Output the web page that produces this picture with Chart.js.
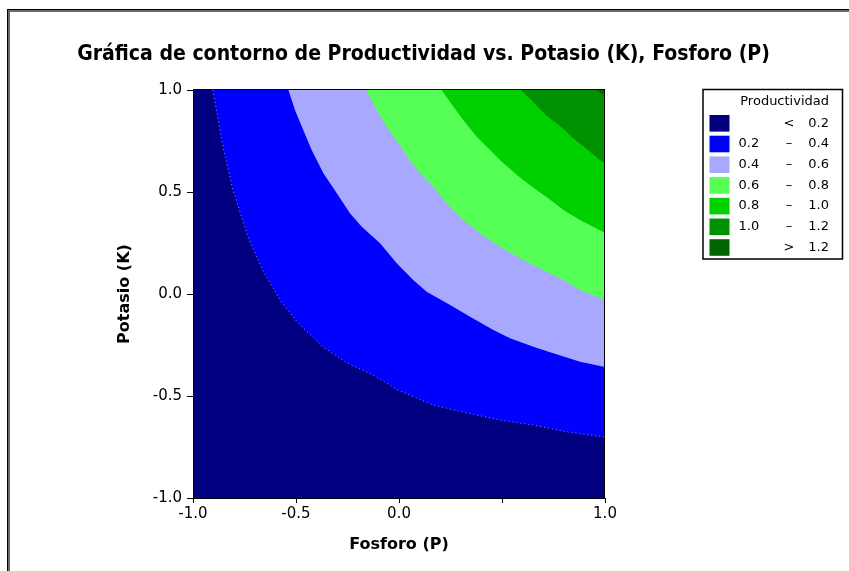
<!DOCTYPE html>
<html><head><meta charset="utf-8">
<script src="https://cdn.jsdelivr.net/npm/chart.js@4/dist/chart.umd.min.js"></script>
<style>html,body{margin:0;padding:0;background:#fff;overflow:hidden}#wrap{position:relative;width:849px;height:571px}</style>
</head><body><div id="wrap"><canvas id="c" width="849" height="571"></canvas></div>
<script>
const titleText = 'Gráfica de contorno de Productividad vs. Potasio (K), Fosforo (P)';
const xAxisTitle = 'Fosforo (P)';
const yAxisTitle = 'Potasio (K)';
const xTickLabels = ['-1.0', '-0.5', '0.0', '', '1.0'];
const yTickLabels = ['-1.0', '-0.5', '0.0', '0.5', '1.0'];
const legendTitle = 'Productividad';
const legendLow = ['', '0.2', '0.4', '0.6', '0.8', '1.0', ''];
const legendSep = ['<', '–', '–', '–', '–', '–', '>'];
const legendHigh = ['0.2', '0.4', '0.6', '0.8', '1.0', '1.2', '1.2'];
const bandColors = ['#000080', '#0000FF', '#A8A8FF', '#55FF55', '#00D000', '#009000', '#006400'];
const levels = [0.2, 0.4, 0.6, 0.8, 1.0, 1.2];

// contour lines: [Fosforo (P), Potasio (K)]
const contour02 = [[-0.904,1.0],[-0.854,0.721],[-0.806,0.510],[-0.733,0.279],[-0.665,0.123],[-0.578,-0.029],[-0.495,-0.137],[-0.369,-0.260],[-0.252,-0.338],[-0.126,-0.397],[-0.005,-0.471],[0.165,-0.544],[0.330,-0.583],[0.490,-0.618],[0.650,-0.642],[0.816,-0.676],[1.0,-0.701]];
const contour04 = [[-0.537,1.0],[-0.505,0.902],[-0.465,0.804],[-0.424,0.706],[-0.367,0.592],[-0.302,0.494],[-0.238,0.396],[-0.181,0.330],[-0.092,0.249],[-0.011,0.151],[0.069,0.069],[0.134,0.011],[0.248,-0.054],[0.345,-0.111],[0.458,-0.176],[0.539,-0.217],[0.652,-0.258],[0.749,-0.291],[0.879,-0.332],[1.0,-0.358]];
const contour06 = [[-0.160,1.0],[-0.108,0.902],[-0.060,0.820],[-0.003,0.739],[0.053,0.657],[0.102,0.592],[0.166,0.526],[0.232,0.444],[0.312,0.363],[0.393,0.298],[0.490,0.232],[0.602,0.167],[0.699,0.118],[0.798,0.069],[0.879,0.020],[1.0,-0.029]];
const contour08 = [[0.207,1.0],[0.264,0.918],[0.312,0.853],[0.377,0.771],[0.442,0.706],[0.495,0.652],[0.578,0.578],[0.660,0.515],[0.723,0.471],[0.798,0.412],[0.879,0.363],[1.0,0.299]];
const contour10 = [[0.592,1.0],[0.652,0.941],[0.717,0.873],[0.782,0.824],[0.846,0.763],[0.911,0.711],[1.0,0.637]];
const contour12 = [[0.961,1.0],[0.981,0.985],[1.0,0.970]];
const contours = [contour02, contour04, contour06, contour08, contour10, contour12];

const datasets = contours.map((pts, i) => ({
  label: String(levels[i]),
  data: pts.map(([x, y]) => ({x, y})),
  fill: 'end',
  backgroundColor: bandColors[i + 1],
  borderColor: i === 0 ? 'rgba(255,255,255,0.55)' : 'rgba(0,0,0,0)',
  borderWidth: i === 0 ? 1 : 0,
  borderDash: i === 0 ? [1, 3] : [],
  pointRadius: 0,
  tension: 0,
  order: contours.length - i
}));

const FONT = "'DejaVu Sans', Verdana, sans-serif";

const decor = {
  id: 'decor',
  beforeDraw(chart) {
    const ctx = chart.ctx, W = chart.width, H = chart.height;
    ctx.save();
    ctx.fillStyle = '#fff'; ctx.fillRect(0, 0, W, H);
    ctx.fillStyle = '#6a6a6a';
    ctx.fillRect(8, 10, W - 8, 2);
    ctx.fillRect(8, 10, 2, H - 10);
    ctx.fillStyle = '#000';
    ctx.fillRect(7, 9, W - 7, 1);
    ctx.fillRect(7, 9, 1, H - 9);
    ctx.restore();
  },
  beforeDatasetsDraw(chart) {
    const a = chart.chartArea, ctx = chart.ctx;
    ctx.save(); ctx.fillStyle = bandColors[0];
    ctx.fillRect(a.left, a.top, a.right - a.left, a.bottom - a.top);
    ctx.restore();
  },
  afterDatasetsDraw(chart) {
    const a = chart.chartArea, ctx = chart.ctx;
    ctx.save(); ctx.strokeStyle = '#000'; ctx.lineWidth = 1;
    ctx.strokeRect(Math.round(a.left) + 0.5, Math.round(a.top) - 0.5, Math.round(a.right - a.left) - 1, Math.round(a.bottom - a.top) + 1);
    ctx.restore();
  },
  afterDraw(chart) {
    const ctx = chart.ctx;
    ctx.save();
    // title
    const fam = "'DejaVu Sans Condensed', 'DejaVu Sans', sans-serif";
    ctx.font = 'bold 20px ' + fam;
    const w = ctx.measureText(titleText).width;
    const size = 20 * 693 / w;
    ctx.font = 'bold ' + size.toFixed(2) + 'px ' + fam;
    ctx.fillStyle = '#000'; ctx.textAlign = 'center'; ctx.textBaseline = 'alphabetic';
    ctx.fillText(titleText, 423.5, 60);
    // legend
    ctx.strokeStyle = '#000'; ctx.lineWidth = 1.5;
    ctx.strokeRect(703, 89.5, 139.5, 169.5);
    ctx.font = '13px ' + FONT; ctx.textBaseline = 'middle';
    ctx.textAlign = 'right';
    ctx.fillText(legendTitle, 829, 102);
    ctx.font = '13px ' + FONT;
    for (let i = 0; i < bandColors.length; i++) {
      const y = 123.3 + i * 20.7;
      ctx.fillStyle = bandColors[i];
      ctx.fillRect(709.5, y - 8.3, 20, 16.6);
      ctx.fillStyle = '#000';
      ctx.textAlign = 'left'; ctx.fillText(legendLow[i], 738.5, y);
      ctx.textAlign = 'center'; ctx.fillText(legendSep[i], 789, y);
      ctx.textAlign = 'right'; ctx.fillText(legendHigh[i], 829, y);
    }
    ctx.restore();
  }
};

new Chart(document.getElementById('c'), {
  type: 'line',
  data: { datasets },
  options: {
    responsive: false,
    animation: false,
    events: [],
    layout: { padding: { top: 90, right: 244, left: 0, bottom: 0 } },
    plugins: { legend: { display: false }, title: { display: false }, tooltip: { enabled: false } },
    scales: {
      x: {
        type: 'linear', min: -1, max: 1,
        afterFit: s => { s.height = 73; },
        ticks: { stepSize: 0.5, autoSkip: false, maxRotation: 0, padding: 2, color: '#000',
          font: { family: FONT, size: 15 },
          callback: (v, i) => xTickLabels[i] },
        grid: { drawOnChartArea: false, drawTicks: true, tickLength: 5, color: '#000', lineWidth: 1 },
        border: { display: true, color: '#000', width: 1 },
        title: { display: true, text: xAxisTitle, color: '#000', font: { family: FONT, size: 16, weight: 'bold' }, padding: { top: 0, bottom: 17 } }
      },
      y: {
        type: 'linear', min: -1, max: 1,
        afterFit: s => { s.width = 193; },
        ticks: { stepSize: 0.5, autoSkip: false, padding: 5, color: '#000',
          font: { family: FONT, size: 15 },
          callback: (v, i) => yTickLabels[i] },
        grid: { drawOnChartArea: false, drawTicks: true, tickLength: 6, color: '#000', lineWidth: 1 },
        border: { display: true, color: '#000', width: 1 },
        title: { display: true, text: yAxisTitle, color: '#000', font: { family: FONT, size: 16, weight: 'bold' }, padding: { top: 115, bottom: 0 } }
      }
    }
  },
  plugins: [decor]
});
</script></body></html>
